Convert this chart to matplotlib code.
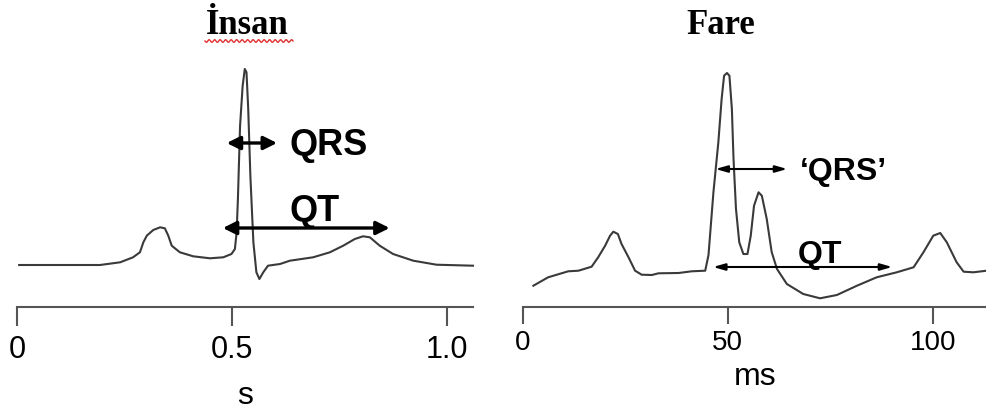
import numpy as np
import matplotlib
matplotlib.use("Agg")
import matplotlib.pyplot as plt

# human ECG trace (s, amplitude in arbitrary units above the axis)
human_t = [0.005, 0.100, 0.193, 0.240, 0.270, 0.286, 0.294, 0.302, 0.317, 0.333,
           0.344, 0.352, 0.360, 0.379, 0.410, 0.449, 0.480, 0.499, 0.507, 0.511,
           0.514, 0.519, 0.525, 0.530, 0.534, 0.538, 0.543, 0.550, 0.557, 0.564,
           0.573, 0.584, 0.612, 0.635, 0.689, 0.728, 0.759, 0.786, 0.805, 0.821,
           0.844, 0.875, 0.922, 0.976, 1.061]
human_v = [42, 42, 42, 44.7, 49.7, 54.7, 64.7, 71.3, 77, 79.7,
           78.7, 71.3, 61.3, 54.7, 50.7, 48.7, 49.7, 53, 58, 74.7,
           108, 181, 221, 238, 234.7, 198, 131, 64.7, 34.7, 28,
           34.7, 41.3, 43, 46.3, 49.7, 54.7, 61.3, 68, 70.7, 69.7,
           61.3, 53, 46.3, 42.3, 41.3]

# mouse ECG trace (ms)
mouse_t = [2.6, 6.2, 11.1, 13.6, 16.8, 18.4, 20.1, 21.3, 22.1, 23.2,
           24.1, 25.8, 27.4, 29.0, 31.5, 33.1, 38.0, 41.2, 44.5, 45.3,
           46.5, 47.7, 48.5, 49.1, 49.8, 50.4, 51.0, 51.4, 52.0, 52.8,
           53.8, 54.8, 55.6, 56.4, 57.5, 58.3, 59.5, 60.7, 62.0, 64.4,
           68.4, 72.5, 76.6, 81.5, 86.3, 91.2, 95.3, 97.7, 100.1, 101.8,
           103.4, 105.8, 107.5, 109.9, 113.1]
mouse_v = [21.3, 29.7, 35.7, 36.3, 40.3, 49.7, 61.3, 71.3, 75.3, 73,
           63, 49.7, 36.3, 32.3, 32, 33.7, 34, 35.7, 36.3, 52,
           114.7, 164.7, 208, 231.3, 234, 231.3, 198, 148, 98, 64.7,
           53, 53, 71.3, 101.3, 114.7, 111.3, 88, 55, 38, 23,
           13, 8.7, 12, 21.3, 29.7, 34.7, 39.7, 54.7, 71.3, 74,
           64.7, 44.7, 35.3, 34.7, 36.3]

# interval arrows: (start, end, height)
human_qrs = (0.488, 0.605, 164)
human_qt = (0.479, 0.867, 79)
mouse_qrs = (47.0, 64.5, 138)
mouse_qt = (46.4, 90.1, 40)

W, H = 987, 414
fig = plt.figure(figsize=(W / 100, H / 100), dpi=100)

line_col = "#3a3a3a"
axis_y = 308
top = 260


def make_ax(x0, x1, xmax):
    ax = fig.add_axes([x0 / W, (H - axis_y) / H, (x1 - x0) / W, top / H])
    ax.set_xlim(0, xmax)
    ax.set_ylim(0, top)
    for s in ["top", "right", "left"]:
        ax.spines[s].set_visible(False)
    ax.spines["bottom"].set_color("#555555")
    ax.spines["bottom"].set_linewidth(1.5)
    ax.set_yticks([])
    ax.patch.set_alpha(0)
    return ax


# left panel: human
ax1 = make_ax(17, 473, 1.061)
ax1.plot(human_t, human_v, color=line_col, lw=1.5, clip_on=False)
ax1.set_xticks([0, 0.5, 1.0])
ax1.set_xticklabels(["0", "0.5", "1.0"], fontsize=22, family="Liberation Sans")
ax1.tick_params(axis="x", length=14, width=1.5, color="#555555", pad=5.7)
ax1.set_xlabel("s", fontsize=23, family="Liberation Sans", labelpad=11.5)
for a, b, y in [human_qrs, human_qt]:
    ax1.annotate("", xy=(b, y), xytext=(a, y),
                 arrowprops=dict(arrowstyle="<|-|>,head_length=0.8,head_width=0.4",
                                 color="black", lw=2.4, shrinkA=0, shrinkB=0))
ax1.text(0.724, 162, "QRS", fontsize=26, fontweight="bold",
         family="Liberation Sans", ha="center", va="center")
ax1.text(0.693, 96, "QT", fontsize=26, fontweight="bold",
         family="Liberation Sans", ha="center", va="center")

# right panel: mouse
ax2 = make_ax(522.7, 987, 113.2)
ax2.plot(mouse_t, mouse_v, color=line_col, lw=1.5, clip_on=False)
ax2.set_xticks([0, 50, 100])
ax2.set_xticklabels(["0", "50", "100"], fontsize=20, family="Liberation Sans")
ax2.tick_params(axis="x", length=12, width=1.5, color="#555555", pad=4)
ax2.set_xlabel("ms", fontsize=23, family="Liberation Sans", labelpad=4)
for a, b, y in [mouse_qrs, mouse_qt]:
    ax2.annotate("", xy=(b, y), xytext=(a, y),
                 arrowprops=dict(arrowstyle="<|-|>,head_length=0.7,head_width=0.2",
                                 color="black", lw=1.5, shrinkA=0, shrinkB=0))
ax2.text(78.2, 136, "\u2018QRS\u2019", fontsize=23, fontweight="bold",
         family="Liberation Sans", ha="center", va="center")
ax2.text(72.5, 53, "QT", fontsize=23, fontweight="bold",
         family="Liberation Sans", ha="center", va="center")

# panel titles
fig.text(247 / W, 1 - 25 / H, "\u0130nsan", fontsize=25, fontweight="bold",
         family="Liberation Serif", ha="center", va="center")
fig.text(721 / W, 1 - 25 / H, "Fare", fontsize=25, fontweight="bold",
         family="Liberation Serif", ha="center", va="center")

# spell-check squiggle under the left title
sx = np.linspace(205, 293, 200)
sy = 42 + 1.3 * np.sin((sx - 205) / 5.5 * 2 * np.pi)
fig.add_artist(plt.Line2D(sx / W, 1 - sy / H, color="#e03030", lw=1.0,
                          transform=fig.transFigure))

fig.savefig("out.png", dpi=100)
